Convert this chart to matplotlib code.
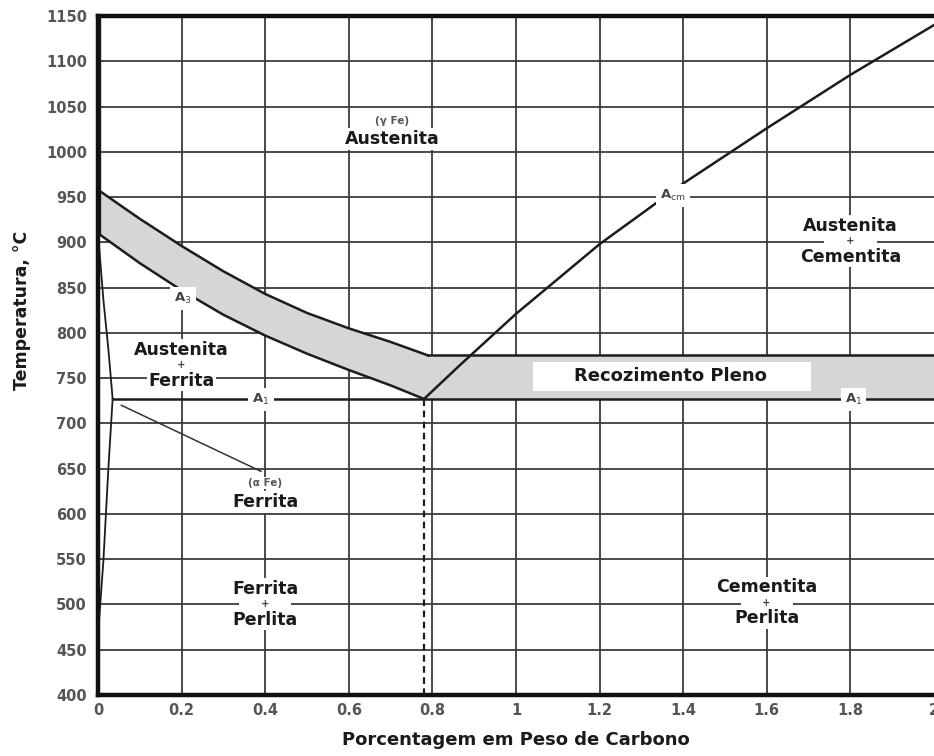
import matplotlib.pyplot as plt
from matplotlib.patches import Rectangle

# diagrama Fe-C (lado do aço), faixa de recozimento pleno
x_ticks = [0, 0.2, 0.4, 0.6, 0.8, 1.0, 1.2, 1.4, 1.6, 1.8, 2.0]
x_ticklabels = ['0', '0.2', '0.4', '0.6', '0.8', '1', '1.2', '1.4', '1.6', '1.8', '2']
y_ticks = list(range(400, 1151, 50))

# limite superior da faixa (A3 + ~50 °C)
upper_c = [0.0, 0.1, 0.2, 0.3, 0.4, 0.5, 0.6, 0.7, 0.79]
upper_t = [958, 926, 896, 868, 843, 822, 805, 790, 775]
# linha A3
a3_c = [0.0, 0.1, 0.2, 0.3, 0.4, 0.5, 0.6, 0.7, 0.78]
a3_t = [910, 877, 847, 820, 797, 777, 759, 742, 727]
# linha Acm
acm_c = [0.78, 0.865, 1.0, 1.2, 1.4, 1.6, 1.8, 2.0]
acm_t = [727, 764, 821, 898, 965, 1026, 1085, 1140]
# contorno da ferrita (alfa) perto de 0 %C
alpha_c = [0.0, 0.013, 0.025, 0.035]
alpha_t = [910, 836, 781, 727]
solvus_c = [0.035, 0.025, 0.013, 0.001, 0.0]
solvus_t = [727, 652, 549, 472, 400]

eutectoid_c = 0.78
a1_t = 727
band_top_t = 775

line_col = '#1c1c1c'
grid_col = '#3c3c3c'
band_col = '#d6d6d6'

fig = plt.figure(figsize=(9.34, 7.56), dpi=100)
ax = fig.add_axes([98 / 934, 61 / 756, 836 / 934, 679 / 756])
ax.set_xlim(0, 2)
ax.set_ylim(400, 1150)

# grade
for xv in x_ticks[1:-1]:
    ax.axvline(xv, color=grid_col, lw=1.3, zorder=1)
for yv in y_ticks[1:-1]:
    ax.axhline(yv, color=grid_col, lw=1.3, zorder=1)

# faixa sombreada
poly_c = upper_c + [2.0, 2.0, eutectoid_c] + a3_c[::-1]
poly_t = upper_t + [band_top_t, a1_t, a1_t] + a3_t[::-1]
ax.fill(poly_c, poly_t, color=band_col, lw=0, zorder=2)

# curvas
lw = 1.8
ax.plot(upper_c, upper_t, color=line_col, lw=lw, zorder=3)
ax.plot([upper_c[-1], 2.0], [band_top_t, band_top_t], color=line_col, lw=lw, zorder=3)
ax.plot(a3_c, a3_t, color=line_col, lw=lw, zorder=3)
ax.plot(acm_c, acm_t, color=line_col, lw=lw, zorder=3)
ax.plot([alpha_c[-1], 2.0], [a1_t, a1_t], color=line_col, lw=lw, zorder=3)
ax.plot(alpha_c, alpha_t, color=line_col, lw=1.3, zorder=3)
ax.plot(solvus_c, solvus_t, color=line_col, lw=1.3, zorder=3)
ax.plot([0.005, 0.005], [910, 1150], color=line_col, lw=1.0, zorder=3)
ax.plot([eutectoid_c, eutectoid_c], [400, a1_t], color=line_col, lw=1.6,
        ls=(0, (3, 2)), zorder=3)
ax.plot([0.056, 0.39], [720, 647], color='#333333', lw=1.1, zorder=3)

# caixa do recozimento pleno
ax.add_patch(Rectangle((1.04, 736), 0.665, 32, fc='white', ec='none', zorder=4))
ax.text(1.37, 752, 'Recozimento Pleno', ha='center', va='center',
        fontsize=13, fontweight='bold', color='#1a1a1a', zorder=5)

# rótulos das regiões: palavra / "+" pequeno / palavra
word_kw = dict(ha='center', fontsize=12.5, fontweight='bold',
               color='#1a1a1a', zorder=5, textcoords='offset points',
               bbox=dict(boxstyle='square,pad=0.1', fc='white', ec='none'))
plus_kw = dict(ha='center', va='center', fontsize=7, fontweight='bold',
               color='#444444', zorder=4.5,
               bbox=dict(boxstyle='square,pad=0.2', fc='white', ec='none'))
regions = [(0.2, 764, 'Austenita', 'Ferrita'),
           (0.4, 500, 'Ferrita', 'Perlita'),
           (1.6, 502, 'Cementita', 'Perlita'),
           (1.8, 901, 'Austenita', 'Cementita')]
for cx, ct, top, bottom in regions:
    ax.annotate(top, (cx, ct), xytext=(0, 4.5), va='bottom', **word_kw)
    ax.annotate(bottom, (cx, ct), xytext=(0, -4.5), va='top', **word_kw)
    ax.text(cx, ct, '      +      ', **plus_kw)

ax.text(0.704, 1014, 'Austenita', ha='center', va='center', fontsize=12.5,
        fontweight='bold', color='#1a1a1a', zorder=5,
        bbox=dict(boxstyle='square,pad=0.1', fc='white', ec='none'))
ax.text(0.704, 1034, '(γ Fe)', ha='center', va='center', fontsize=7.5,
        fontweight='bold', color='#555555', zorder=5)
ax.text(0.4, 613, 'Ferrita', ha='center', va='center', fontsize=12.5,
        fontweight='bold', color='#1a1a1a', zorder=5,
        bbox=dict(boxstyle='square,pad=0.1', fc='white', ec='none'))
ax.text(0.4, 634, '(α Fe)', ha='center', va='center', fontsize=7.5,
        fontweight='bold', color='#555555', zorder=5,
        bbox=dict(boxstyle='square,pad=0.1', fc='white', ec='none'))

# nomes das linhas críticas
crit_kw = dict(ha='center', va='center', fontsize=9.5, fontweight='bold',
               color='#444444', zorder=5,
               bbox=dict(boxstyle='square,pad=0.3', fc='white', ec='none'))
ax.text(0.203, 838, r'A$_\mathrm{3}$', **crit_kw)
ax.text(0.39, 726, r'A$_\mathrm{1}$', **crit_kw)
ax.text(1.807, 726, r'A$_\mathrm{1}$', **crit_kw)
ax.text(1.375, 952, r'A$_\mathrm{cm}$', **crit_kw)

# eixos
for side in ['left', 'bottom', 'top']:
    ax.spines[side].set_linewidth(3.2)
    ax.spines[side].set_color('#111111')
    ax.spines[side].set_zorder(6)
ax.spines['right'].set_visible(False)

ax.set_xticks(x_ticks)
ax.set_xticklabels(x_ticklabels)
ax.set_yticks(y_ticks)
ax.tick_params(length=0, labelsize=10.5, labelcolor='#555555', pad=8)
ax.tick_params(axis='x', pad=6)
for lab in ax.get_xticklabels() + ax.get_yticklabels():
    lab.set_fontweight('bold')

ax.set_xlabel('Porcentagem em Peso de Carbono', fontsize=13,
              fontweight='bold', color='#1a1a1a', labelpad=9)
ax.set_ylabel('Temperatura, °C', fontsize=12.5, fontweight='bold',
              color='#1a1a1a')
ax.yaxis.set_label_coords(-0.08, 0.567)

fig.savefig('out.png', dpi=100)
